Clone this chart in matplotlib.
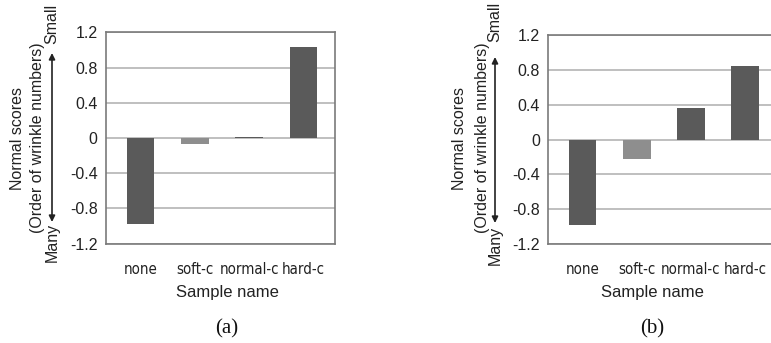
import matplotlib
matplotlib.use("Agg")
import matplotlib.pyplot as plt

categories = ["none", "soft-c", "normal-c", "hard-c"]
values_a = [-0.98, -0.07, 0.01, 1.03]
values_b = [-0.98, -0.23, 0.36, 0.845]
bar_colors = ["#5a5a5a", "#8e8e8e", "#5a5a5a", "#5a5a5a"]
yticks = [-1.2, -0.8, -0.4, 0, 0.4, 0.8, 1.2]
ytick_labels = ["-1.2", "-0.8", "-0.4", "0", "0.4", "0.8", "1.2"]
panel_labels = ["(a)", "(b)"]

plt.rcParams["font.family"] = ["Liberation Sans", "DejaVu Sans"]

W, H = 771, 343
fig = plt.figure(figsize=(W / 100, H / 100), dpi=100)

def fx(px):
    return px / W

def fy(py):
    return 1 - py / H

panels = [
    dict(vals=values_a, left=106, top=32.3, bottom=243.5, step=54.3,
         ylab1=18, ylab2=38, arrowx=52, arr_top=53, arr_bot=222,
         small_y=24, many_y=242, xlab_x=227.5, pan_x=227),
    dict(vals=values_b, left=548.3, top=35.3, bottom=243.7, step=54.1,
         ylab1=460, ylab2=482, arrowx=495, arr_top=57, arr_bot=223,
         small_y=22, many_y=245, xlab_x=652, pan_x=652),
]

xlo, xhi = -0.635, 3.58
for p, plab in zip(panels, panel_labels):
    width_px = (xhi - xlo) * p["step"]
    ax = fig.add_axes([fx(p["left"]), fy(p["bottom"]), fx(width_px),
                       (p["bottom"] - p["top"]) / H])
    x = list(range(len(categories)))
    ax.bar(x, p["vals"], width=0.51, color=bar_colors, zorder=3)
    ax.set_xlim(xlo, xhi)
    ax.set_ylim(-1.2, 1.2)
    ax.set_yticks(yticks)
    ax.set_yticklabels(ytick_labels, fontsize=11.5, color="#222222")
    ax.set_xticks(x)
    ax.set_xticklabels(categories, fontsize=10.8, color="#222222",
                       family="DejaVu Sans", fontstretch="condensed")
    ax.tick_params(length=0, pad=6)
    ax.tick_params(axis="x", pad=13)
    ax.yaxis.grid(True, color="#b4b4b4", linewidth=1.2, zorder=0)
    ax.set_axisbelow(True)
    for s in ax.spines.values():
        s.set_color("#7a7a7a")
        s.set_linewidth(1.2)
    fig.text(fx(p["xlab_x"]), fy(293), "Sample name", ha="center", va="center",
             fontsize=12, color="#222222")
    fig.text(fx(p["pan_x"]), fy(329), plab, ha="center", va="center",
             fontsize=15, family=["Liberation Serif", "DejaVu Serif"], color="#111111")
    ymid = fy(138)
    fig.text(fx(p["ylab1"]), ymid, "Normal scores", rotation=90, ha="center",
             va="center", fontsize=11.5, color="#222222")
    fig.text(fx(p["ylab2"]), ymid, "(Order of wrinkle numbers)", rotation=90,
             ha="center", va="center", fontsize=11.5, color="#222222")
    fig.text(fx(p["arrowx"]), fy(p["small_y"]), "Small", rotation=90, ha="center",
             va="center", fontsize=11.5, color="#222222")
    fig.text(fx(p["arrowx"]), fy(p["many_y"]), "Many", rotation=90, ha="center",
             va="center", fontsize=11.5, color="#222222")
    fig.add_artist(matplotlib.patches.FancyArrowPatch(
        (fx(p["arrowx"]), fy(p["arr_bot"])), (fx(p["arrowx"]), fy(p["arr_top"])),
        transform=fig.transFigure, arrowstyle="<|-|>", mutation_scale=9,
        color="#222222", linewidth=1.2, shrinkA=0, shrinkB=0))

fig.savefig("out.png", dpi=100)
